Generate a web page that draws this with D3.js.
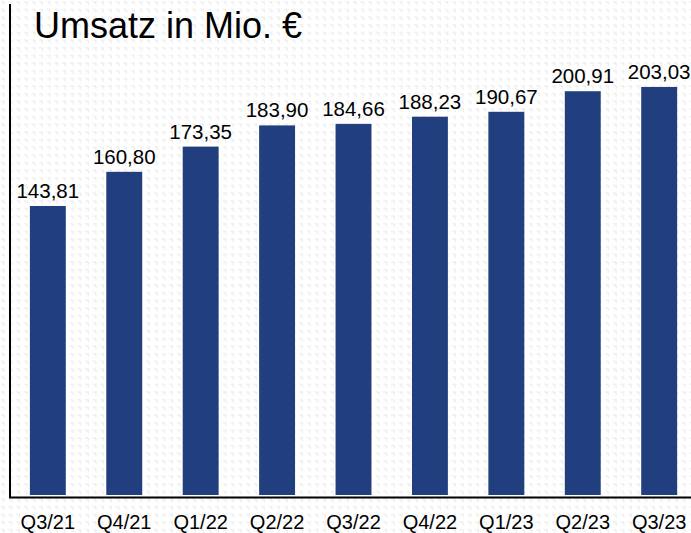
<!DOCTYPE html>
<html>
<head>
<meta charset="utf-8">
<script src="https://cdn.jsdelivr.net/npm/d3@7"></script>
<style>
  body { margin: 0; background: #fff; }
  svg { display: block; font-family: "Liberation Sans", Arial, sans-serif; }
</style>
</head>
<body>
<svg id="chart"></svg>
<script>
// quarters and revenue (Mio. EUR)
const quarters = ["Q3/21", "Q4/21", "Q1/22", "Q2/22", "Q3/22", "Q4/22", "Q1/23", "Q2/23", "Q3/23"]
const umsatz = [143.81, 160.80, 173.35, 183.90, 184.66, 188.23, 190.67, 200.91, 203.03]
const title = "Umsatz in Mio. €"

let width = 691,
    height = 533,
    left = 10,
    right = 691,
    base = 495

let svg = d3.select("#chart")
    .attr("width", width)
    .attr("height", height)

// faint dotted background pattern
let defs = svg.append("defs")
let pat = defs.append("pattern")
    .attr("id", "bgdots")
    .attr("width", 7.65)
    .attr("height", 7.65)
    .attr("patternUnits", "userSpaceOnUse")
pat.append("path")
    .attr("d", "M1,2 H4 V5")
    .attr("fill", "none")
    .attr("stroke", "#e6e6e6")
    .attr("stroke-width", 1)

svg.append("rect")
    .attr("width", width)
    .attr("height", height)
    .attr("fill", "url(#bgdots)")

let x = d3.scaleBand()
    .domain(quarters)
    .range([10, 697])
    .paddingInner(0.53)
    .paddingOuter(0.26)

let y = d3.scaleLinear()
    .domain([0, 246.3])
    .range([base, 0])

let data = quarters.map((q, i) => ({ q: q, v: umsatz[i] }))

svg.selectAll("rect.bar")
    .data(data)
    .enter().append("rect")
    .attr("class", "bar")
    .attr("x", d => x(d.q))
    .attr("y", d => y(d.v))
    .attr("width", x.bandwidth())
    .attr("height", d => base - y(d.v))
    .attr("fill", "#213e7e")

const fmt = v => d3.format(".2f")(v).replace(".", ",")

svg.selectAll("text.val")
    .data(data)
    .enter().append("text")
    .attr("class", "val")
    .attr("x", d => x(d.q) + x.bandwidth() / 2)
    .attr("y", d => y(d.v) - 8)
    .attr("text-anchor", "middle")
    .attr("font-size", 20.5)
    .attr("fill", "#000")
    .text(d => fmt(d.v))

// axes lines
svg.append("line")
    .attr("x1", left).attr("x2", left)
    .attr("y1", 4).attr("y2", 498)
    .attr("stroke", "#000").attr("stroke-width", 2)
svg.append("line")
    .attr("x1", left - 1).attr("x2", right)
    .attr("y1", 497.5).attr("y2", 497.5)
    .attr("stroke", "#000").attr("stroke-width", 2)

let xAxis = d3.axisBottom(x).tickSize(0).tickPadding(0)
let gx = svg.append("g")
    .attr("transform", "translate(0," + 514 + ")")
    .call(xAxis)
gx.select(".domain").remove()
gx.selectAll("text")
    .attr("dy", null)
    .attr("y", 15)
    .attr("font-size", 20)
    .attr("font-family", "Liberation Sans, Arial, sans-serif")
    .attr("fill", "#000")

svg.append("text")
    .attr("x", 34)
    .attr("y", 38)
    .attr("font-size", 36)
    .attr("fill", "#000")
    .text(title)
</script>
</body>
</html>
